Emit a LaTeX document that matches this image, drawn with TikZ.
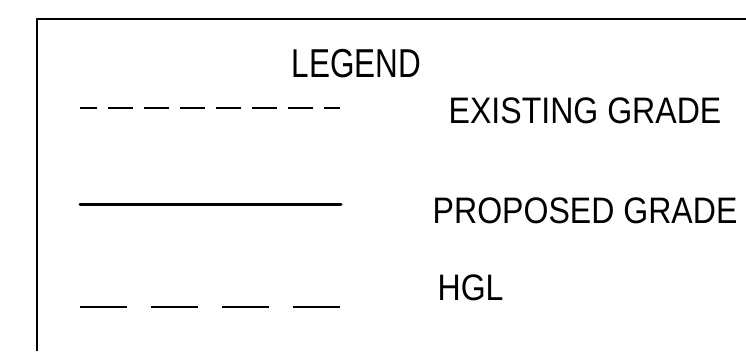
\documentclass[tikz,border=0pt]{standalone}
\usepackage{fontspec}
\setmainfont{Liberation Sans}
\newfontfamily\legendfont[FakeStretch=0.87]{Liberation Sans}
\newfontfamily\titlefont[FakeStretch=0.78]{Liberation Sans}
\usepackage{tikz}
\tikzstyle{label} = [inner sep=0pt, anchor=base west,
    font=\legendfont\fontsize{37}{37}\selectfont]
\tikzstyle{frame} = [line width=2bp]
\tikzstyle{existing} = [line width=1.5bp, dash pattern=on 25bp off 11bp, dash phase=8bp]
\tikzstyle{proposed} = [line width=3bp, line cap=round]
\tikzstyle{hgl} = [line width=1.6bp, dash pattern=on 47bp off 24bp]

\begin{document}
\begin{tikzpicture}[x=1bp,y=-1bp]
    \useasboundingbox (0,0) rectangle (746,351);

    % sheet frame
    \draw[frame] (37,351) -- (37,19) -- (746,19);

    \node[label, font=\titlefont\fontsize{40.5}{40.5}\selectfont] (legend) at (291.7,77) {LEGEND};

    % existing grade
    \coordinate (eg1) at (80,108);
    \coordinate (eg2) at (340,108);
    \draw[existing] (eg1) -- (eg2);
    \node[label] (egtext) at (448.5,123) {EXISTING GRADE};

    % proposed grade
    \coordinate (pg1) at (80,204);
    \coordinate (pg2) at (341,204);
    \draw[proposed] (pg1) -- (pg2);
    \node[label] (pgtext) at (432.5,223) {PROPOSED GRADE};

    % hgl
    \coordinate (hg1) at (80,307);
    \coordinate (hg2) at (340,307);
    \draw[hgl] (hg1) -- (hg2);
    \node[label] (hgtext) at (437.4,300) {HGL};
\end{tikzpicture}
\end{document}
